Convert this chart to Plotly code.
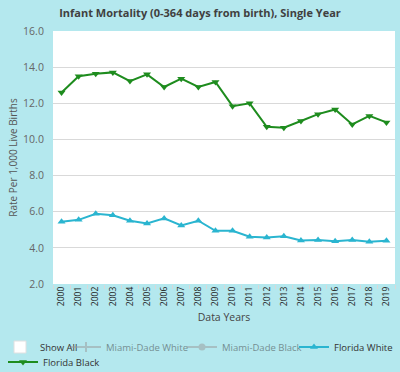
import plotly.graph_objects as go

years = [str(y) for y in range(2000, 2020)]
florida_black = [12.6, 13.5, 13.64, 13.71, 13.23, 13.6, 12.9, 13.36, 12.9, 13.18,
                 11.84, 12.0, 10.7, 10.65, 11.02, 11.4, 11.66, 10.83, 11.3, 10.94]
florida_white = [5.44, 5.55, 5.89, 5.8, 5.5, 5.35, 5.63, 5.24, 5.5, 4.94,
                 4.94, 4.62, 4.58, 4.64, 4.41, 4.43, 4.36, 4.43, 4.34, 4.4]
# Miami-Dade series are toggled off in the chart (legend only): no values shown
miami_dade_white = [None]
miami_dade_black = [None]
show_all = [None]
y_ticks = [2, 4, 6, 8, 10, 12, 14, 16]

BG = "#b4e8ee"
GREEN = "#1e8c1e"
CYAN = "#2ab5d0"
GREY = "#9a9a9a"
FONT = "Open Sans"

fig = go.Figure()

fig.add_trace(go.Scatter(x=years[:1], y=show_all, name="Show All", mode="markers",
                         marker=dict(symbol="square", size=12, color="white",
                                     line=dict(color="#e0e0e0", width=1)),
                         legend="legend"))
fig.add_trace(go.Scatter(x=years[:1], y=miami_dade_white, name="Miami-Dade White",
                         mode="lines+markers", visible="legendonly",
                         line=dict(color=GREY, width=2),
                         marker=dict(symbol="cross-thin", size=7, color=GREY,
                                     line=dict(color=GREY, width=2)),
                         legend="legend2"))
fig.add_trace(go.Scatter(x=years[:1], y=miami_dade_black, name="Miami-Dade Black",
                         mode="lines+markers", visible="legendonly",
                         line=dict(color=GREY, width=2),
                         marker=dict(symbol="circle", size=7, color=GREY),
                         legend="legend3"))
fig.add_trace(go.Scatter(x=years, y=florida_white, name="Florida White",
                         mode="lines+markers",
                         line=dict(color=CYAN, width=2),
                         marker=dict(symbol="triangle-up", size=7, color=CYAN),
                         legend="legend4"))
fig.add_trace(go.Scatter(x=years, y=florida_black, name="Florida Black",
                         mode="lines+markers",
                         line=dict(color=GREEN, width=2),
                         marker=dict(symbol="triangle-down", size=7, color=GREEN),
                         legend="legend5"))

def leg(xpx, ypx):
    return dict(xref="container", yref="container", x=xpx / 400, y=1 - ypx / 372,
                xanchor="left", yanchor="middle", orientation="h",
                bgcolor="rgba(0,0,0,0)", borderwidth=0,
                font=dict(family=FONT, size=9.5, color="#333333"))

fig.update_layout(
    width=400, height=372,
    paper_bgcolor=BG, plot_bgcolor="white",
    margin=dict(l=53, r=5, t=31, b=88),
    font=dict(family=FONT, size=11, color="#555555"),
    title=dict(text="<b>Infant Mortality (0-364 days from birth), Single Year</b>",
               x=0.5, xref="container", xanchor="center",
               y=1 - 13 / 372, yref="container", yanchor="middle",
               font=dict(family=FONT, size=11, color="#404040")),
    showlegend=True,
    legend=leg(0, 347),
    legend2=leg(66, 347),
    legend3=leg(182, 347),
    legend4=leg(294, 347),
    legend5=leg(3, 362),
    xaxis=dict(type="category", range=[-0.5, 19.5], tickangle=-90,
               tickfont=dict(family=FONT, size=8.5, color="#222222"),
               showgrid=False, zeroline=False, showline=False,
               ticks="outside", ticklen=4, tickcolor="#d8d8d8", tickson="boundaries",
               title=dict(text="Data Years", standoff=8,
                          font=dict(family=FONT, size=10.5, color="#444444"))),
    yaxis=dict(range=[2, 16], tickvals=y_ticks, tickformat=".1f",
               showgrid=True, gridcolor="#d9d9d9", gridwidth=1,
               zeroline=False, showline=False,
               ticks="outside", ticklen=6, tickcolor="rgba(0,0,0,0)",
               tickfont=dict(family=FONT, size=10.5, color="#666666"),
               title=dict(text="Rate Per 1,000 Live Births", standoff=3,
                          font=dict(family=FONT, size=10, color="#555555"))),
)

fig.write_html("out.html", config={"displayModeBar": False},
               post_script="document.body.style.margin='0';")
